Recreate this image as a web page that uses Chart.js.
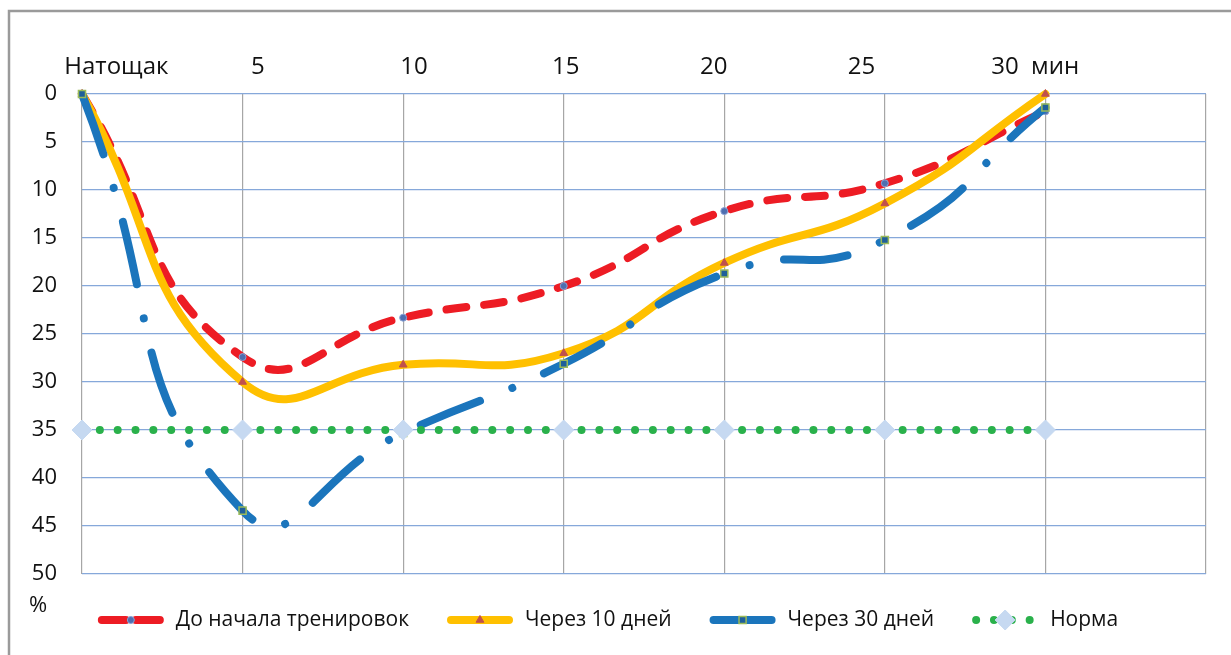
<!DOCTYPE html>
<html><head><meta charset="utf-8">
<script src="https://cdn.jsdelivr.net/npm/chart.js@4/dist/chart.umd.min.js"></script>
<style>html,body{margin:0;padding:0;background:#fff;overflow:hidden}#wrap{width:1231px;height:655px;position:relative}</style>
</head><body><div id="wrap"><canvas id="c" width="1231" height="655"></canvas></div>
<script>
// ---- data ----
const categories = ['Натощак', '5', '10', '15', '20', '25', '30  мин'];
const minutes = [0, 5, 10, 15, 20, 25, 30];
const beforeTraining = [0, 27.4, 23.3, 20.0, 12.2, 9.3, 1.8];
const after10days = [0, 30.0, 28.2, 27.0, 17.6, 11.4, 0];
const after30days = [0, 43.4, 35.3, 28.1, 18.7, 15.2, 1.4];
const norm = [35, 35, 35, 35, 35, 35, 35];
const seriesNames = ['До начала тренировок', 'Через 10 дней', 'Через 30 дней', 'Норма'];
const yTicks = [0, 5, 10, 15, 20, 25, 30, 35, 40, 45, 50];
const xGrid = [0, 5, 10, 15, 20, 25, 30, 35];
const unitLabel = '%';
// label anchor positions (layout) on the top axis, in minutes
const labelPos = [1.07, 5.48, 10.34, 15.06, 19.67, 24.27, 29.68];

const FONT = '"Open Sans", "Noto Sans", sans-serif';
const pts = arr => arr.map((v, i) => ({x: minutes[i], y: v}));

const datasets = [
  {label: seriesNames[0], data: pts(beforeTraining), borderColor: '#ed1c24', borderWidth: 8,
   borderDash: [20, 18], borderCapStyle: 'round', tension: 0.5, order: 4,
   pointStyle: 'circle', pointRadius: 3.5, pointBackgroundColor: '#4f6fb0', pointBorderColor: '#8aa3d6', pointBorderWidth: 1},
  {label: seriesNames[1], data: pts(after10days), borderColor: '#ffc000', borderWidth: 8,
   borderCapStyle: 'round', tension: 0.5, order: 3,
   pointStyle: 'triangle', pointRadius: 4.5, pointBackgroundColor: '#c0504d', pointBorderColor: '#c0504d', pointBorderWidth: 1},
  {label: seriesNames[2], data: pts(after30days), borderColor: '#1b75bc', borderWidth: 8,
   borderDash: [64, 35, 0.01, 35], borderCapStyle: 'round', tension: 0.55, order: 2,
   pointStyle: 'rect', pointRadius: 5, pointBackgroundColor: '#1f5f9a', pointBorderColor: '#9bbb59', pointBorderWidth: 1.5},
  {label: seriesNames[3], data: pts(norm), borderColor: '#2ab14b', borderWidth: 8,
   borderDash: [0.01, 17.83], borderCapStyle: 'round', tension: 0, order: 1,
   pointStyle: 'rectRot', pointRadius: 10, pointBackgroundColor: '#c6d9f1', pointBorderColor: '#c6d9f1', pointBorderWidth: 1}
];
datasets.forEach(d => { d.fill = false; d.clip = false; d.pointHoverRadius = d.pointRadius; });

const framePlugin = {
  id: 'frame',
  beforeDraw(chart) {
    const ctx = chart.ctx;
    ctx.save();
    ctx.fillStyle = '#fff';
    ctx.fillRect(0, 0, chart.width, chart.height);
    ctx.strokeStyle = '#9a9a9a';
    ctx.lineWidth = 2.5;
    ctx.beginPath();
    ctx.moveTo(9, chart.height);
    ctx.lineTo(9, 11);
    ctx.lineTo(chart.width, 11);
    ctx.stroke();
    ctx.restore();
  },
  afterDraw(chart) {
    const ctx = chart.ctx;
    ctx.save();
    ctx.font = '22px ' + FONT;
    ctx.fillStyle = '#111';
    ctx.textAlign = 'center';
    ctx.textBaseline = 'middle';
    ctx.fillText(unitLabel, 38, 606);
    // legend
    ctx.font = '21px ' + FONT;
    const y = 620, L = 66, gap = 12, space = 38;
    const widths = chart.data.datasets.map(d => ctx.measureText(d.label).width);
    const total = widths.reduce((a, w) => a + L + gap + w, 0) + space * (widths.length - 1);
    let x = 608 - total / 2;
    chart.data.datasets.forEach((d, i) => {
      ctx.save();
      ctx.strokeStyle = d.borderColor;
      ctx.lineWidth = d.borderWidth;
      ctx.lineCap = 'round';
      ctx.setLineDash(i === 0 ? [24, 10] : (i === 2 ? [] : (d.borderDash || [])));
      ctx.beginPath();
      ctx.moveTo(x + 4, y);
      ctx.lineTo(x + L - 4, y);
      ctx.stroke();
      ctx.restore();
      ctx.save();
      ctx.fillStyle = d.pointBackgroundColor;
      ctx.strokeStyle = d.pointBorderColor;
      ctx.lineWidth = d.pointBorderWidth;
      Chart.helpers.drawPoint(ctx, {pointStyle: d.pointStyle, rotation: 0, radius: d.pointRadius, borderWidth: d.pointBorderWidth}, x + L / 2, y);
      ctx.restore();
      ctx.fillStyle = '#111';
      ctx.textAlign = 'left';
      ctx.textBaseline = 'middle';
      ctx.fillText(d.label, x + L + gap, y);
      x += L + gap + widths[i] + space;
    });
    ctx.restore();
  }
};

new Chart(document.getElementById('c'), {
  type: 'line',
  data: {datasets},
  options: {
    responsive: false, animation: false, devicePixelRatio: 1,
    layout: {padding: {left: 0, top: 0, right: 25, bottom: 81}},
    plugins: {legend: {display: false}, tooltip: {enabled: false}},
    scales: {
      x: {
        type: 'linear', position: 'bottom', min: 0, max: 35,
        afterBuildTicks: s => { s.ticks = xGrid.map(v => ({value: v})); },
        ticks: {display: false},
        grid: {color: '#a6a6a6', lineWidth: 1.2, drawTicks: false},
        border: {display: false},
        afterFit: s => { s.height = 0; }
      },
      xTop: {
        type: 'linear', position: 'top', min: 0, max: 35,
        afterBuildTicks: s => { s.ticks = labelPos.map(v => ({value: v})); },
        ticks: {autoSkip: false, maxRotation: 0, padding: 12, color: '#111',
                font: {family: FONT, size: 24}, callback: (v, i) => categories[i]},
        grid: {display: false, drawTicks: false},
        border: {display: false},
        afterFit: s => { s.height = 94; }
      },
      y: {
        type: 'linear', reverse: true, min: 0, max: 50,
        afterBuildTicks: s => { s.ticks = yTicks.map(v => ({value: v})); },
        ticks: {padding: 25, color: '#111', font: {family: FONT, size: 22}},
        grid: {color: '#86a8da', lineWidth: 1.2, drawTicks: false},
        border: {display: false},
        afterFit: s => { s.width = 82; }
      }
    }
  },
  plugins: [framePlugin]
});
</script>
</body></html>
